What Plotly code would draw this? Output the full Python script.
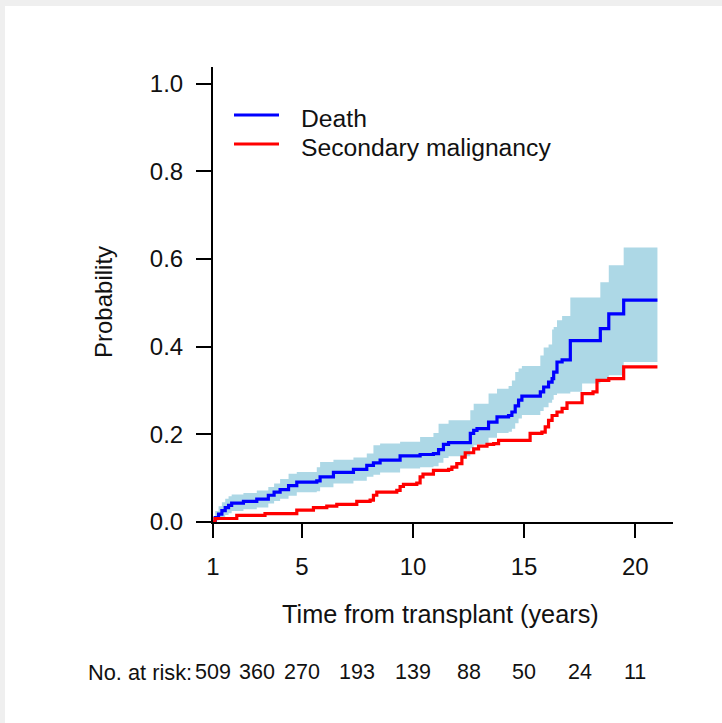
import plotly.graph_objects as go

# Cumulative incidence of death (with pointwise confidence band) and of
# secondary malignancy, by years from transplant.
death_t = [1.00, 1.10, 1.25, 1.40, 1.55, 1.70, 1.84, 2.37, 2.97, 3.49, 3.75, 4.02,
           4.40, 4.77, 5.67, 5.82, 6.42, 7.32, 7.92, 8.22, 8.52, 9.42, 10.32, 10.92,
           11.15, 11.37, 11.60, 12.58, 12.73, 12.88, 13.40, 13.78, 14.30, 14.45, 14.60,
           14.75, 14.90, 15.73, 15.88, 16.10, 16.26, 16.33, 16.48, 16.71, 17.08, 17.61,
           18.43, 18.81, 19.48, 21.00]
death_p = [0.000, 0.010, 0.018, 0.026, 0.033, 0.038, 0.043, 0.047, 0.052, 0.061, 0.068, 0.074,
           0.083, 0.091, 0.094, 0.103, 0.113, 0.120, 0.129, 0.135, 0.141, 0.151, 0.154, 0.156,
           0.165, 0.177, 0.181, 0.202, 0.209, 0.213, 0.228, 0.240, 0.243, 0.251, 0.265,
           0.278, 0.287, 0.297, 0.308, 0.319, 0.327, 0.342, 0.365, 0.370, 0.414, 0.414,
           0.441, 0.475, 0.506, 0.506]
death_lo = [0.000, 0.003, 0.006, 0.011, 0.016, 0.020, 0.025, 0.029, 0.033, 0.042, 0.048, 0.053,
            0.060, 0.068, 0.070, 0.079, 0.088, 0.094, 0.103, 0.108, 0.113, 0.122, 0.125, 0.127,
            0.135, 0.146, 0.150, 0.168, 0.175, 0.178, 0.192, 0.203, 0.206, 0.213, 0.225,
            0.236, 0.244, 0.253, 0.262, 0.272, 0.279, 0.290, 0.293, 0.293, 0.297, 0.316,
            0.325, 0.335, 0.365, 0.365]
death_hi = [0.000, 0.025, 0.036, 0.045, 0.053, 0.059, 0.063, 0.066, 0.072, 0.080, 0.088, 0.098,
            0.110, 0.114, 0.125, 0.137, 0.142, 0.147, 0.156, 0.175, 0.179, 0.183, 0.194, 0.203,
            0.224, 0.224, 0.232, 0.255, 0.270, 0.270, 0.293, 0.304, 0.310, 0.323, 0.342,
            0.350, 0.356, 0.380, 0.398, 0.405, 0.439, 0.445, 0.460, 0.470, 0.512, 0.512,
            0.547, 0.586, 0.626, 0.626]

malig_t = [1.00, 1.09, 2.07, 3.34, 4.77, 5.52, 6.12, 6.57, 7.47, 8.07, 8.22, 8.37, 9.27, 9.42,
           9.57, 10.17, 10.32, 10.45, 10.92, 11.60, 11.75, 11.97, 12.20, 12.35, 12.73, 12.95,
           13.33, 13.63, 13.85, 15.27, 15.80, 15.95, 16.10, 16.26, 16.48, 16.71, 16.93, 17.61,
           18.10, 18.28, 18.81, 19.48, 21.00]
malig_p = [0.000, 0.008, 0.015, 0.019, 0.027, 0.033, 0.036, 0.040, 0.047, 0.050, 0.061, 0.068,
           0.072, 0.081, 0.086, 0.089, 0.103, 0.109, 0.118, 0.120, 0.125, 0.133, 0.148, 0.158,
           0.167, 0.173, 0.177, 0.179, 0.186, 0.202, 0.205, 0.217, 0.232, 0.243, 0.251, 0.259,
           0.272, 0.293, 0.297, 0.323, 0.327, 0.354, 0.354]

# Numbers at risk below the axis
risk_t = [1, 3, 5, 7.5, 10, 12.5, 15, 17.5, 20]
risk_n = [509, 360, 270, 193, 139, 88, 50, 24, 11]

x_ticks = [1, 5, 10, 15, 20]
y_ticks = [0.0, 0.2, 0.4, 0.6, 0.8, 1.0]
y_tick_text = ["0.0", "0.2", "0.4", "0.6", "0.8", "1.0"]

series_names = ["Death", "Secondary malignancy"]
series_colors = ["#0000ff", "#ff0000"]
band_color = "#add8e6"

W, H = 722, 723
L, R, T, B = 213, 49, 67, 201
FONT = "Liberation Sans, Arial, sans-serif"
FS = 24
TXT = "#111111"


def px_x(px):
    return (px - L) / (W - L - R)


def px_y(py):
    return (H - B - py) / (H - B - T)


fig = go.Figure()

# confidence band for death
fig.add_trace(go.Scatter(x=death_t, y=death_lo, mode="lines", line=dict(width=0, shape="hv"),
                         hoverinfo="skip", showlegend=False))
fig.add_trace(go.Scatter(x=death_t, y=death_hi, mode="lines", line=dict(width=0, shape="hv"),
                         fill="tonexty", fillcolor=band_color, hoverinfo="skip", showlegend=False))

fig.add_trace(go.Scatter(x=death_t, y=death_p, mode="lines", name=series_names[0],
                         line=dict(color=series_colors[0], width=3.2, shape="hv"), showlegend=False))
fig.add_trace(go.Scatter(x=malig_t, y=malig_p, mode="lines", name=series_names[1],
                         line=dict(color=series_colors[1], width=3.2, shape="hv"), showlegend=False))

shapes = [
    # white panel on the light grey page
    dict(type="rect", xref="paper", yref="paper", x0=px_x(5), x1=px_x(W + 2),
         y0=px_y(H + 2), y1=px_y(6), fillcolor="white", line=dict(width=0), layer="below"),
]
annotations = []

# legend
legend_line_y = [115, 144]
legend_text_y = [118, 147]
for name, col, ly, ty in zip(series_names, series_colors, legend_line_y, legend_text_y):
    shapes.append(dict(type="line", xref="paper", yref="paper", x0=px_x(234), x1=px_x(279),
                       y0=px_y(ly), y1=px_y(ly), line=dict(color=col, width=3.2)))
    annotations.append(dict(text=name, xref="paper", yref="paper", x=px_x(299), y=px_y(ty),
                            xanchor="left", yanchor="middle", showarrow=False,
                            font=dict(family=FONT, size=24.7, color=TXT)))

# axis titles
annotations.append(dict(text="Time from transplant (years)", xref="paper", yref="paper",
                        x=px_x(440), y=px_y(614), xanchor="center", yanchor="middle",
                        showarrow=False, font=dict(family=FONT, size=25.3, color=TXT)))
annotations.append(dict(text="Probability", xref="paper", yref="paper", textangle=-90,
                        x=px_x(103), y=px_y(302), xanchor="center", yanchor="middle",
                        showarrow=False, font=dict(family=FONT, size=FS, color=TXT)))

# numbers at risk
annotations.append(dict(text="No. at risk:", xref="paper", yref="paper", x=px_x(194), y=px_y(672),
                        xanchor="right", yanchor="middle", showarrow=False,
                        font=dict(family=FONT, size=21.8, color=TXT)))
for t, n in zip(risk_t, risk_n):
    annotations.append(dict(text=str(n), xref="x", yref="paper", x=t, y=px_y(672),
                            xanchor="center", yanchor="middle", showarrow=False,
                            font=dict(family=FONT, size=21.5, color=TXT)))

axis_common = dict(showline=True, linecolor="black", linewidth=2, ticks="outside",
                   tickcolor="black", tickwidth=2, showgrid=False, zeroline=False,
                   tickfont=dict(family=FONT, size=FS, color=TXT))

fig.update_layout(
    width=W, height=H,
    margin=dict(l=L, r=R, t=T, b=B, pad=0),
    paper_bgcolor="#efefef",
    plot_bgcolor="rgba(0,0,0,0)",
    shapes=shapes,
    annotations=annotations,
    xaxis=dict(range=[1, 21.7], tickvals=x_ticks, ticklen=14, ticklabelstandoff=8, **axis_common),
    yaxis=dict(range=[0, 1.038], tickvals=y_ticks, ticktext=y_tick_text, ticklen=15,
               ticklabelstandoff=8, **axis_common),
    showlegend=False,
)

fig.write_html("out.html")
